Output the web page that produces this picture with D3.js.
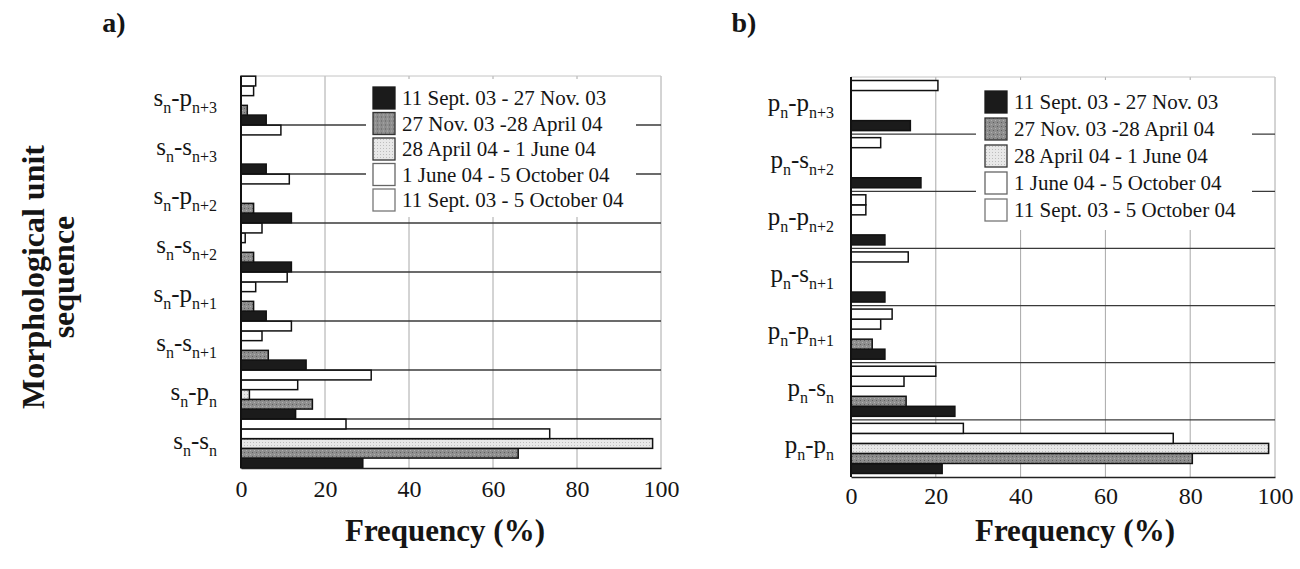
<!DOCTYPE html>
<html>
<head>
<meta charset="utf-8">
<script src="https://cdn.jsdelivr.net/npm/d3@7"></script>
<style>
  body { margin: 0; background: #fff; }
  svg { display: block; }
  text { font-family: "Liberation Serif", "Times New Roman", serif; fill: #151515; }
</style>
</head>
<body>
<svg id="chart" width="1300" height="569"></svg>
<script>
// Sampling periods (series), shared by both panels
const seriesNames = [
  "11 Sept. 03 - 27 Nov. 03",
  "27 Nov. 03 -28 April 04",
  "28 April 04 - 1 June 04",
  "1 June 04 - 5 October 04",
  "11 Sept. 03 - 5 October 04"
];
const tickValues = [0, 20, 40, 60, 80, 100];

// Panel a: sequences starting with s_n (listed top to bottom) — [unit, sub, unit, sub]
const catsA = [
  ["s", "n", "p", "n+3"], ["s", "n", "s", "n+3"], ["s", "n", "p", "n+2"], ["s", "n", "s", "n+2"],
  ["s", "n", "p", "n+1"], ["s", "n", "s", "n+1"], ["s", "n", "p", "n"], ["s", "n", "s", "n"]
];
const a1 = [6, 6, 12, 12, 6, 15.5, 13, 29];
const a2 = [1.5, 0, 3, 3, 3, 6.5, 17, 66];
const a3 = [0, 0, 0, 0, 0, 0, 2, 98];
const a4 = [3, 0, 0, 1, 3.5, 5, 13.5, 73.5];
const a5 = [3.5, 9.5, 11.5, 5, 11, 12, 31, 25];

// Panel b: sequences starting with p_n (listed top to bottom)
const catsB = [
  ["p", "n", "p", "n+3"], ["p", "n", "s", "n+2"], ["p", "n", "p", "n+2"], ["p", "n", "s", "n+1"],
  ["p", "n", "p", "n+1"], ["p", "n", "s", "n"], ["p", "n", "p", "n"]
];
const b1 = [14, 16.5, 8, 8, 8, 24.5, 21.5];
const b2 = [0, 0, 0, 0, 5, 13, 80.5];
const b3 = [0, 0, 0, 0, 0, 0, 98.5];
const b4 = [0, 0, 3.5, 0, 7, 12.5, 76];
const b5 = [20.5, 7, 3.5, 13.5, 9.7, 20, 26.5];

const svg = d3.select("#chart");
const defs = svg.append("defs");

// stippled fills for the two grey series
const p2 = defs.append("pattern").attr("id", "fill2").attr("patternUnits", "userSpaceOnUse")
  .attr("width", 4).attr("height", 4);
p2.append("rect").attr("width", 4).attr("height", 4).attr("fill", "#8e8e8e");
p2.append("rect").attr("x", 0).attr("y", 0).attr("width", 1).attr("height", 1).attr("fill", "#5e5e5e");
p2.append("rect").attr("x", 2).attr("y", 2).attr("width", 1).attr("height", 1).attr("fill", "#b0b0b0");
const p3 = defs.append("pattern").attr("id", "fill3").attr("patternUnits", "userSpaceOnUse")
  .attr("width", 3).attr("height", 3);
p3.append("rect").attr("width", 3).attr("height", 3).attr("fill", "#e8e8e8");
p3.append("rect").attr("x", 1).attr("y", 1).attr("width", 1).attr("height", 1).attr("fill", "#bdbdbd");

const fills = ["#1b1b1b", "url(#fill2)", "url(#fill3)", "#ffffff", "#ffffff"];
const legendStroke = ["#1b1b1b", "#333", "#333", "#666", "#777"];

function catLabel(g, parts, x, y) {
  const t = g.append("text").attr("x", x).attr("y", y).attr("text-anchor", "end")
    .style("font-size", "25px");
  t.append("tspan").text(parts[0]);
  t.append("tspan").attr("dy", 7).style("font-size", "16px").text(parts[1]);
  t.append("tspan").attr("dy", -7).text("-");
  t.append("tspan").text(parts[2]);
  t.append("tspan").attr("dy", 7).style("font-size", "16px").text(parts[3]);
}

function drawPanel(cfg) {
  const g = svg.append("g");
  const x = d3.scaleLinear().domain([0, 100]).range([cfg.x0, cfg.x1]);
  const idx = d3.range(cfg.cats.length);
  const y = d3.scaleBand().domain(idx).range([cfg.top, cfg.bottom]).padding(0);
  // series stacked inside a band: last series on top, first at the bottom
  const order = [4, 3, 2, 1, 0];
  const yIn = d3.scaleBand().domain(order).range([0, y.bandwidth()])
    .paddingInner(0).paddingOuter(cfg.outerPad);

  // vertical gridlines
  g.append("g").selectAll("line").data(tickValues.slice(1)).join("line")
    .attr("x1", d => x(d)).attr("x2", d => x(d))
    .attr("y1", cfg.top).attr("y2", cfg.bottom)
    .attr("stroke", "#a8a8a8").attr("stroke-width", 1);
  // top border of plot area
  g.append("line").attr("x1", x(0)).attr("x2", x(100)).attr("y1", cfg.top).attr("y2", cfg.top)
    .attr("stroke", "#c4c4c4").attr("stroke-width", 1);
  // category dividers
  g.append("g").selectAll("line").data(idx.slice(1)).join("line")
    .attr("x1", x(0)).attr("x2", x(100))
    .attr("y1", d => y(d)).attr("y2", d => y(d))
    .attr("stroke", "#3a3a3a").attr("stroke-width", 1.3);

  // bars
  const bars = [];
  cfg.series.forEach((vals, s) => vals.forEach((v, c) => bars.push({ s, c, v })));
  g.append("g").selectAll("rect").data(bars.filter(d => d.v > 0)).join("rect")
    .attr("x", x(0))
    .attr("y", d => y(d.c) + yIn(d.s))
    .attr("width", d => x(d.v) - x(0))
    .attr("height", yIn.bandwidth())
    .attr("fill", d => fills[d.s])
    .attr("stroke", "#111").attr("stroke-width", 1.5);

  // legend with white background
  const L = cfg.legend;
  g.append("rect").attr("x", L.bx).attr("y", L.by).attr("width", L.bw).attr("height", L.bh)
    .attr("fill", "#fff");
  const li = g.append("g").selectAll("g").data(seriesNames).join("g")
    .attr("transform", (d, i) => `translate(${L.x},${L.y + i * L.step})`);
  li.append("rect").attr("width", 22).attr("height", 22)
    .attr("fill", (d, i) => fills[i]).attr("stroke", (d, i) => legendStroke[i]).attr("stroke-width", 1.3);
  li.append("text").attr("x", 29).attr("y", 18).style("font-size", "21px").text(d => d);

  // axes
  g.append("line").attr("x1", x(0)).attr("x2", x(0)).attr("y1", cfg.top).attr("y2", cfg.bottom)
    .attr("stroke", "#111").attr("stroke-width", 2);
  const ax = g.append("g").attr("transform", `translate(0,${cfg.bottom})`)
    .call(d3.axisBottom(x).tickValues(tickValues).tickSize(0).tickPadding(cfg.tickPad).tickFormat(d3.format("d")));
  ax.select(".domain").attr("stroke", "#222").attr("stroke-width", 1.5);
  ax.selectAll("text").style("font-family", "Liberation Serif, serif").style("font-size", "24px").attr("fill", "#151515");

  // category labels
  idx.forEach(i => catLabel(g, cfg.cats[i], x(0) - cfg.labelGap, y(i) + y.bandwidth() / 2 + 5));

  // axis title and panel letter
  g.append("text").attr("x", (x(0) + x(100)) / 2 + cfg.titleShift).attr("y", 541).attr("text-anchor", "middle")
    .style("font-size", "31px").style("font-weight", "bold").text("Frequency (%)");
  g.append("text").attr("x", cfg.letterX).attr("y", 32).attr("text-anchor", "middle")
    .style("font-size", "28px").style("font-weight", "bold").text(cfg.letter);
}

drawPanel({
  cats: catsA, series: [a1, a2, a3, a4, a5],
  x0: 241, x1: 661, top: 76, bottom: 468, outerPad: 0.02,
  legend: { x: 373, y: 87, step: 25.5, bx: 366, by: 79, bw: 270, bh: 138 },
  tickPad: 12, labelGap: 24, titleShift: -6, letterX: 114, letter: "a)"
});
drawPanel({
  cats: catsB, series: [b1, b2, b3, b4, b5],
  x0: 851, x1: 1275, top: 77, bottom: 477, outerPad: 0.35,
  legend: { x: 985, y: 91, step: 27, bx: 976, by: 80, bw: 276, bh: 150 },
  tickPad: 10, labelGap: 17, titleShift: 12, letterX: 744, letter: "b)"
});

// shared y-axis title
const yt = svg.append("text").attr("transform", "translate(44,277) rotate(-90)")
  .attr("text-anchor", "middle").style("font-size", "32px").style("font-weight", "bold");
yt.append("tspan").attr("x", 0).attr("dy", 0).text("Morphological unit");
yt.append("tspan").attr("x", 0).attr("dy", 30).text("sequence");
</script>
</body>
</html>
